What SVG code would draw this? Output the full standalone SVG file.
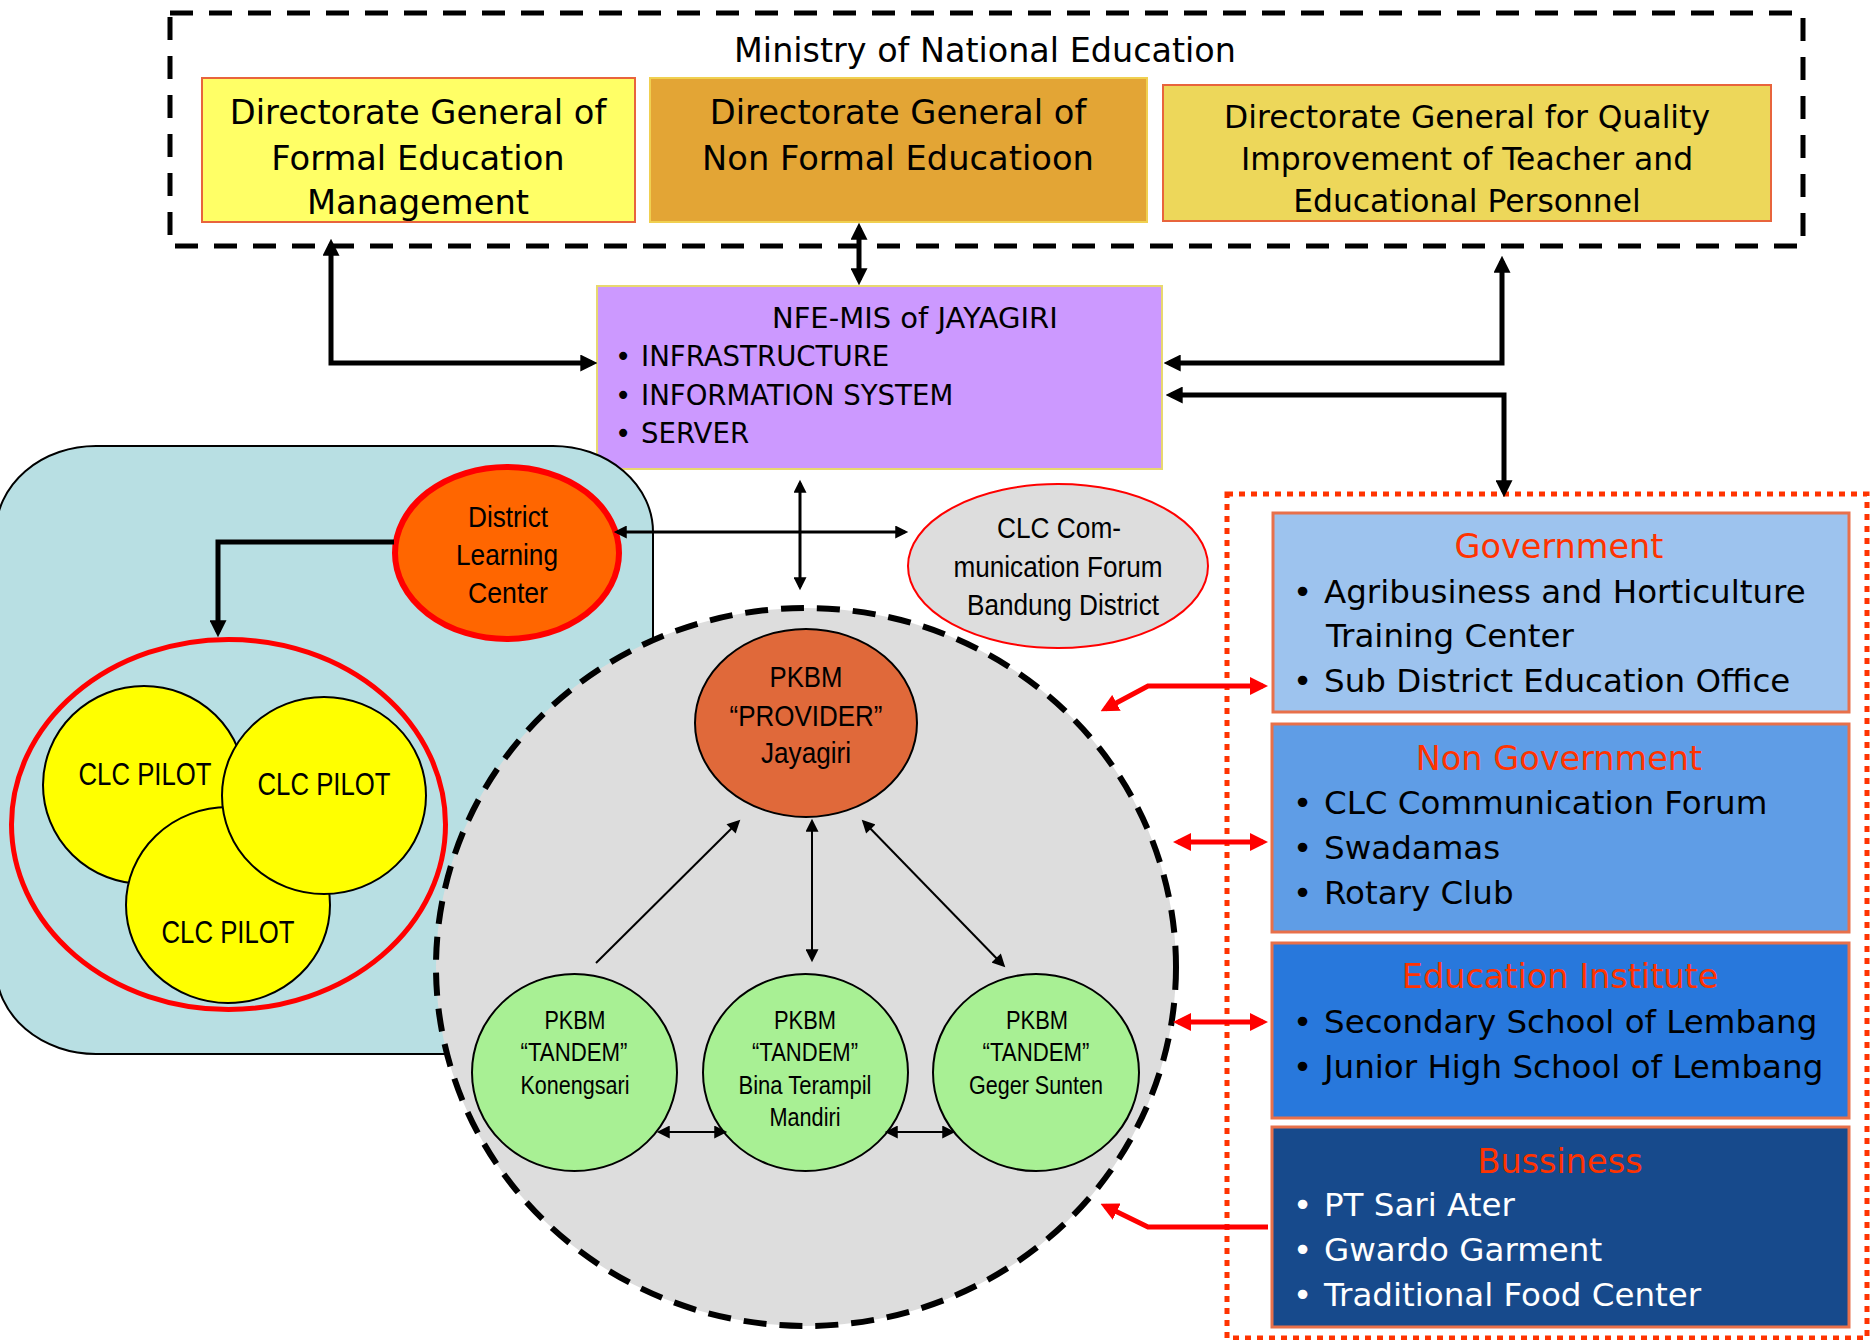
<svg xmlns="http://www.w3.org/2000/svg" width="1873" height="1340" viewBox="0 0 1873 1340">
<style>
.t{font-family:"DejaVu Sans",Verdana,sans-serif;fill:#000}
.n{font-family:"Liberation Sans Narrow","Liberation Sans",Arial,sans-serif;fill:#000}
.ttl{font-family:"DejaVu Sans",Verdana,sans-serif;fill:#FF3300;font-size:33.5px;text-anchor:middle}
.it{font-family:"DejaVu Sans",Verdana,sans-serif;font-size:32.5px;fill:#000}
.w{fill:#fff}
.thick{fill:none;stroke:#000;stroke-width:5}
.thin{fill:none;stroke:#000;stroke-width:3}
.hair{fill:none;stroke:#000;stroke-width:2}
.red{fill:none;stroke:#FF0000;stroke-width:5}
</style>
<defs>
<marker id="ah" viewBox="0 0 16 16" refX="11" refY="8" markerWidth="17" markerHeight="17" markerUnits="userSpaceOnUse" orient="auto-start-reverse"><path d="M0,0 L16,8 L0,16 z" fill="#000"/></marker>
<marker id="as" viewBox="0 0 12 12" refX="9" refY="6" markerWidth="14" markerHeight="13" markerUnits="userSpaceOnUse" orient="auto-start-reverse"><path d="M0,0 L12,6 L0,12 z" fill="#000"/></marker>
<marker id="ar" viewBox="0 0 18 18" refX="13" refY="9" markerWidth="18" markerHeight="18" markerUnits="userSpaceOnUse" orient="auto-start-reverse"><path d="M0,0 L18,9 L0,18 z" fill="#FF0000"/></marker>
</defs>
<rect width="1873" height="1340" fill="#fff"/>

<g id="ministry">
<rect x="170" y="13" width="1633" height="233" fill="none" stroke="#000" stroke-width="5" stroke-dasharray="23 16"/>
<text class="t" x="985" y="62" font-size="33.4" text-anchor="middle">Ministry of National Education</text>
</g>
<g id="dg-formal">
<rect x="202" y="78" width="433" height="144" fill="#FFFF66" stroke="#E8643C" stroke-width="2"/>
<text class="t" font-size="33.7" text-anchor="middle"><tspan x="418" y="124">Directorate General of</tspan><tspan x="418" y="170">Formal Education</tspan><tspan x="418" y="214">Management</tspan></text>
</g>
<g id="dg-nonformal">
<rect x="650" y="78" width="497" height="144" fill="#E3A535" stroke="#F0D050" stroke-width="2"/>
<text class="t" font-size="33.7" text-anchor="middle"><tspan x="898" y="124">Directorate General of</tspan><tspan x="898" y="170">Non Formal Educatioon</tspan></text>
</g>
<g id="dg-quality">
<rect x="1163" y="85" width="608" height="136" fill="#EDD75A" stroke="#E8643C" stroke-width="2"/>
<text class="t" font-size="31.4" text-anchor="middle"><tspan x="1467" y="128">Directorate General for Quality</tspan><tspan x="1467" y="170">Improvement of Teacher and</tspan><tspan x="1467" y="212">Educational Personnel</tspan></text>
</g>
<g id="nfe-mis">
<rect x="597" y="286" width="565" height="183" fill="#CC99FF" stroke="#E8D870" stroke-width="2"/>
<text class="t" x="772" y="328" font-size="29">NFE-MIS of JAYAGIRI</text>
<text class="t" font-size="27.6"><tspan x="615" y="366">•</tspan><tspan x="641" y="366">INFRASTRUCTURE</tspan><tspan x="615" y="405">•</tspan><tspan x="641" y="405">INFORMATION SYSTEM</tspan><tspan x="615" y="443">•</tspan><tspan x="641" y="443">SERVER</tspan></text>
</g>

<g id="district-area">
<rect x="-4" y="446" width="657" height="608" rx="100" ry="86" fill="#B8DFE3" stroke="#000" stroke-width="2"/>
</g>
<g id="clc-pilots">
<ellipse cx="228.5" cy="824.5" rx="217" ry="185" fill="none" stroke="#FF0000" stroke-width="5"/>
<ellipse cx="144" cy="785" rx="101" ry="99" fill="#FFFF00" stroke="#000" stroke-width="2"/>
<ellipse cx="228" cy="905" rx="102" ry="98" fill="#FFFF00" stroke="#000" stroke-width="2"/>
<ellipse cx="324" cy="795.5" rx="102" ry="98.5" fill="#FFFF00" stroke="#000" stroke-width="2"/>
<text class="n" x="145" y="785" font-size="31" text-anchor="middle" textLength="133" lengthAdjust="spacingAndGlyphs">CLC PILOT</text>
<text class="n" x="324" y="795" font-size="31" text-anchor="middle" textLength="133" lengthAdjust="spacingAndGlyphs">CLC PILOT</text>
<text class="n" x="228" y="943" font-size="31" text-anchor="middle" textLength="133" lengthAdjust="spacingAndGlyphs">CLC PILOT</text>
</g>
<g id="district-learning-center">
<ellipse cx="507" cy="553" rx="112" ry="86" fill="#FF6600" stroke="#FF0000" stroke-width="6"/>
<text class="n" font-size="30" text-anchor="middle"><tspan x="508" y="527" textLength="80" lengthAdjust="spacingAndGlyphs">District</tspan></text>
<text class="n" font-size="30" text-anchor="middle"><tspan x="507" y="565" textLength="102" lengthAdjust="spacingAndGlyphs">Learning</tspan></text>
<text class="n" font-size="30" text-anchor="middle"><tspan x="508" y="603" textLength="80" lengthAdjust="spacingAndGlyphs">Center</tspan></text>
</g>
<g id="clc-forum">
<ellipse cx="1058" cy="566" rx="150" ry="82" fill="#DDDDDD" stroke="#FF0000" stroke-width="2"/>
<text class="n" x="1059" y="538" font-size="29" text-anchor="middle" textLength="124" lengthAdjust="spacingAndGlyphs">CLC Com-</text>
<text class="n" x="1058" y="577" font-size="29" text-anchor="middle" textLength="209" lengthAdjust="spacingAndGlyphs">munication Forum</text>
<text class="n" x="1063" y="615" font-size="29" text-anchor="middle" textLength="192" lengthAdjust="spacingAndGlyphs">Bandung District</text>
</g>

<g id="pkbm-area">
<ellipse cx="806" cy="967" rx="370" ry="359" fill="#DDDDDD" stroke="#000" stroke-width="6" stroke-dasharray="23 13"/>
</g>
<g id="pkbm-provider">
<ellipse cx="806" cy="723" rx="111" ry="94" fill="#E0693A" stroke="#000" stroke-width="2"/>
<text class="n" x="806" y="687" font-size="30" text-anchor="middle" textLength="73" lengthAdjust="spacingAndGlyphs">PKBM</text>
<text class="n" x="806" y="726" font-size="30" text-anchor="middle" textLength="153" lengthAdjust="spacingAndGlyphs">“PROVIDER”</text>
<text class="n" x="806" y="763" font-size="30" text-anchor="middle" textLength="90" lengthAdjust="spacingAndGlyphs">Jayagiri</text>
</g>
<g id="tandem-konengsari">
<ellipse cx="574.5" cy="1072.5" rx="102.5" ry="98.5" fill="#A8F094" stroke="#000" stroke-width="2"/>
<text class="n" x="575" y="1029" font-size="25" text-anchor="middle" textLength="61" lengthAdjust="spacingAndGlyphs">PKBM</text>
<text class="n" x="574" y="1061" font-size="25" text-anchor="middle" textLength="107" lengthAdjust="spacingAndGlyphs">“TANDEM”</text>
<text class="n" x="575" y="1094" font-size="25" text-anchor="middle" textLength="109" lengthAdjust="spacingAndGlyphs">Konengsari</text>
</g>
<g id="tandem-bina">
<ellipse cx="805.5" cy="1072.5" rx="102.5" ry="98.5" fill="#A8F094" stroke="#000" stroke-width="2"/>
<text class="n" x="805" y="1029" font-size="25" text-anchor="middle" textLength="62" lengthAdjust="spacingAndGlyphs">PKBM</text>
<text class="n" x="805" y="1061" font-size="25" text-anchor="middle" textLength="106" lengthAdjust="spacingAndGlyphs">“TANDEM”</text>
<text class="n" x="805" y="1094" font-size="25" text-anchor="middle" textLength="133" lengthAdjust="spacingAndGlyphs">Bina Terampil</text>
<text class="n" x="805" y="1126" font-size="25" text-anchor="middle" textLength="71" lengthAdjust="spacingAndGlyphs">Mandiri</text>
</g>
<g id="tandem-geger">
<ellipse cx="1036" cy="1072.5" rx="103" ry="98.5" fill="#A8F094" stroke="#000" stroke-width="2"/>
<text class="n" x="1037" y="1029" font-size="25" text-anchor="middle" textLength="62" lengthAdjust="spacingAndGlyphs">PKBM</text>
<text class="n" x="1036" y="1061" font-size="25" text-anchor="middle" textLength="107" lengthAdjust="spacingAndGlyphs">“TANDEM”</text>
<text class="n" x="1036" y="1094" font-size="25" text-anchor="middle" textLength="134" lengthAdjust="spacingAndGlyphs">Geger Sunten</text>
</g>

<g id="partners">
<rect x="1227" y="494" width="640" height="844" fill="none" stroke="#FF3300" stroke-width="5" stroke-dasharray="6 6"/>
</g>
<g id="government">
<rect x="1273" y="513" width="576" height="199" fill="#9DC3EE" stroke="#E8704A" stroke-width="3"/>
<text class="ttl" x="1559" y="558">Government</text>
<text class="it"><tspan x="1293" y="603">•</tspan><tspan x="1324" y="603">Agribusiness and Horticulture</tspan><tspan x="1326" y="647">Training Center</tspan><tspan x="1293" y="692">•</tspan><tspan x="1324" y="692">Sub District Education Office</tspan></text>
</g>
<g id="non-government">
<rect x="1272" y="724" width="577" height="208" fill="#5F9DE6" stroke="#E8704A" stroke-width="3"/>
<text class="ttl" x="1559" y="770">Non Government</text>
<text class="it"><tspan x="1293" y="814">•</tspan><tspan x="1324" y="814">CLC Communication Forum</tspan><tspan x="1293" y="859">•</tspan><tspan x="1324" y="859">Swadamas</tspan><tspan x="1293" y="904">•</tspan><tspan x="1324" y="904">Rotary Club</tspan></text>
</g>
<g id="education-institute">
<rect x="1272" y="943" width="577" height="175" fill="#2878DC" stroke="#E8704A" stroke-width="3"/>
<text class="ttl" x="1560" y="988">Education Institute</text>
<text class="it"><tspan x="1293" y="1033">•</tspan><tspan x="1324" y="1033">Secondary School of Lembang</tspan><tspan x="1293" y="1078">•</tspan><tspan x="1324" y="1078">Junior High School of Lembang</tspan></text>
</g>
<g id="bussiness">
<rect x="1272" y="1127" width="577" height="200" fill="#174A8C" stroke="#E8704A" stroke-width="3"/>
<text class="ttl" x="1560" y="1173">Bussiness</text>
<text class="it w"><tspan x="1293" y="1216">•</tspan><tspan x="1324" y="1216">PT Sari Ater</tspan><tspan x="1293" y="1261">•</tspan><tspan x="1324" y="1261">Gwardo Garment</tspan><tspan x="1293" y="1306">•</tspan><tspan x="1324" y="1306">Traditional Food Center</tspan></text>
</g>

<g id="connectors">
<path class="thick" d="M331,244 V363 H592" marker-start="url(#ah)" marker-end="url(#ah)"/>
<path class="thick" d="M859,228 V280" marker-start="url(#ah)" marker-end="url(#ah)"/>
<path class="thick" d="M1502,261 V363 H1169" marker-start="url(#ah)" marker-end="url(#ah)"/>
<path class="thick" d="M1171,395 H1504 V492" marker-start="url(#ah)" marker-end="url(#ah)"/>
<path class="thick" d="M394,542 H218 V632" marker-end="url(#ah)"/>
<path class="thin" d="M800,483 V587" marker-start="url(#as)" marker-end="url(#as)"/>
<path class="thin" d="M617,532 H905" marker-start="url(#as)" marker-end="url(#as)"/>
<path class="hair" d="M596,963 L738,822" marker-end="url(#as)"/>
<path class="hair" d="M812,822 V959" marker-start="url(#as)" marker-end="url(#as)"/>
<path class="hair" d="M864,822 L1003,965" marker-start="url(#as)" marker-end="url(#as)"/>
<path class="hair" d="M660,1132 H724" marker-start="url(#as)" marker-end="url(#as)"/>
<path class="hair" d="M888,1132 H952" marker-start="url(#as)" marker-end="url(#as)"/>
<path class="red" d="M1105,709 L1148,686 H1263" marker-start="url(#ar)" marker-end="url(#ar)"/>
<path class="red" d="M1178,842 H1263" marker-start="url(#ar)" marker-end="url(#ar)"/>
<path class="red" d="M1178,1022 H1263" marker-start="url(#ar)" marker-end="url(#ar)"/>
<path class="red" d="M1268,1227 H1148 L1105,1206" marker-end="url(#ar)"/>
</g>
</svg>
